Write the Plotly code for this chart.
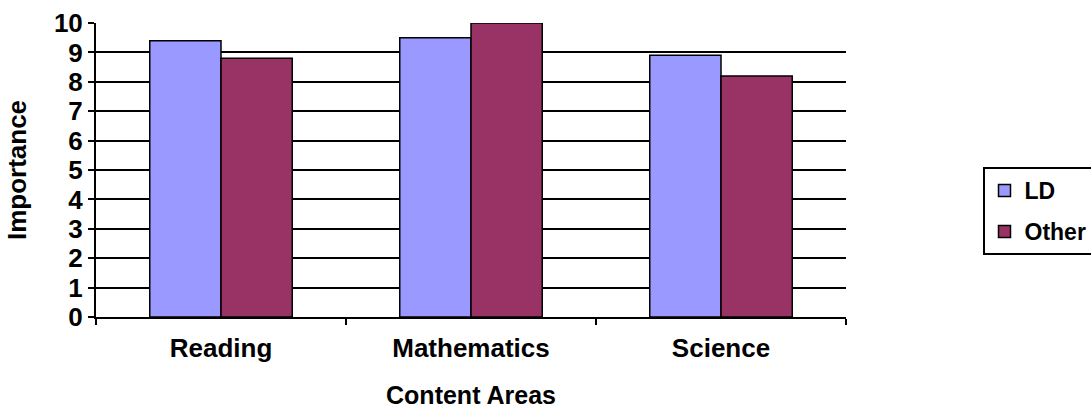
import plotly.graph_objects as go

categories = ["Reading", "Mathematics", "Science"]
ld_values = [9.4, 9.5, 8.9]
other_values = [8.8, 10.0, 8.2]
series_names = ["LD", "Other"]

FONT = "Liberation Sans, Arial, sans-serif"

fig = go.Figure()
fig.add_trace(go.Bar(
    x=categories, y=ld_values, name=series_names[0], legendgroup="a",
    marker=dict(color="#9999FF", line=dict(color="black", width=1.5)),
))
fig.add_trace(go.Bar(
    x=categories, y=other_values, name=series_names[1], legendgroup="b",
    marker=dict(color="#993366", line=dict(color="black", width=1.5)),
))

fig.update_layout(
    width=1091, height=409,
    margin=dict(l=96, r=245, t=23, b=92, autoexpand=False),
    paper_bgcolor="white", plot_bgcolor="white",
    barmode="group", bargap=0.43, bargroupgap=0,
    font=dict(family=FONT, size=20, color="black"),
    showlegend=True,
    legend=dict(
        x=1.182, xanchor="left", y=0.51, yanchor="top",
        bordercolor="black", borderwidth=2, bgcolor="white",
        font=dict(family=FONT, size=23, color="black", weight="bold"),
        tracegroupgap=8, itemwidth=30,
    ),
    xaxis=dict(
        showline=True, linecolor="black", linewidth=2,
        ticks="outside", tickson="boundaries", ticklen=6, tickcolor="black", tickwidth=1.5,
        ticklabelstandoff=7,
        tickfont=dict(family=FONT, size=26, color="black", weight="bold"),
        title=dict(text="Content Areas", standoff=30,
                   font=dict(family=FONT, size=25, color="black", weight="bold")),
        showgrid=False,
    ),
    yaxis=dict(
        range=[0, 10], dtick=1, tick0=0,
        showline=True, linecolor="black", linewidth=2,
        ticks="outside", ticklen=6, tickcolor="black", tickwidth=1.5,
        tickfont=dict(family=FONT, size=26, color="black", weight="bold"),
        showgrid=True, gridcolor="black", gridwidth=1.5,
        zeroline=False,
        title=dict(text="Importance", standoff=20,
                   font=dict(family=FONT, size=26, color="black", weight="bold")),
    ),
)

fig.write_html("out.html")
